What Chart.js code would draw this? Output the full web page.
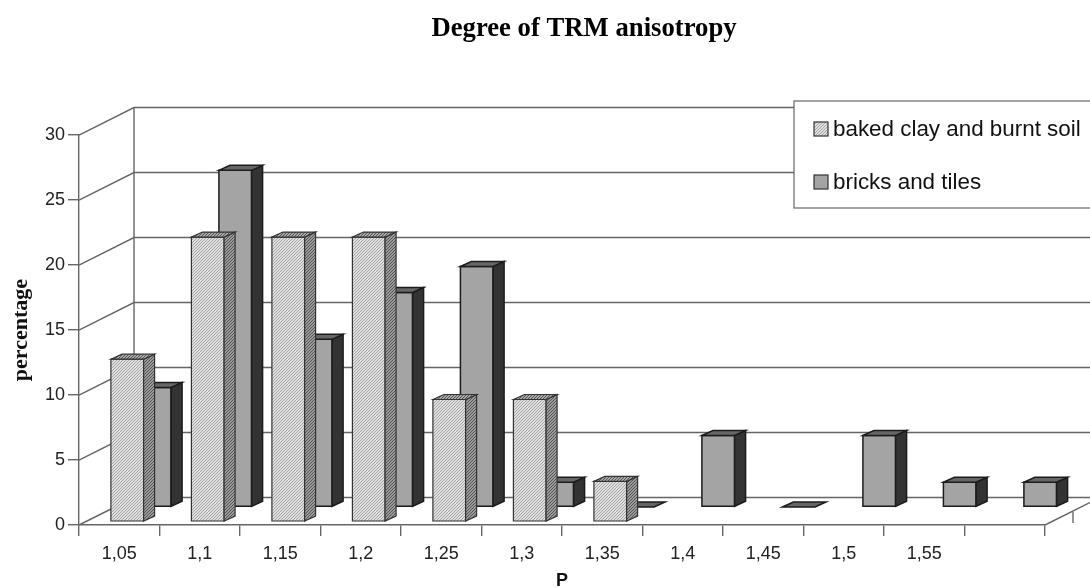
<!DOCTYPE html>
<html>
<head>
<meta charset="utf-8">
<title>Degree of TRM anisotropy</title>
<script src="https://cdn.jsdelivr.net/npm/chart.js@4/dist/chart.umd.min.js"></script>
<style>
  html, body { margin: 0; padding: 0; background: #fff; }
  canvas { display: block; filter: blur(0.45px); }
</style>
</head>
<body>
<canvas id="chart" width="1090" height="588"></canvas>
<script>
const categories = ['1,05', '1,1', '1,15', '1,2', '1,25', '1,3', '1,35', '1,4', '1,45', '1,5', '1,55', ''];
const bakedClay = [12.5, 21.9, 21.9, 21.9, 9.4, 9.4, 3.1, null, null, null, null, null];
const bricksTiles = [9.2, 25.9, 12.9, 16.5, 18.5, 1.9, 0, 5.5, 0, 5.5, 1.9, 1.9];
const yTicks = [0, 5, 10, 15, 20, 25, 30];

const SANS = "'Liberation Sans', Arial, sans-serif";
const SERIF = "'Liberation Serif', 'Times New Roman', serif";
const LINE = '#666666';
const OUTLINE = '#1c1c1c';

// Depth of the 3D box the chart sits in
const WALL_DX = 55, WALL_DY = -27.5;
// Depth of a single bar
const BAR_DX = 11, BAR_DY = -5;

function hatch(bg, fg) {
    const c = document.createElement('canvas');
    c.width = c.height = 3;
    const g = c.getContext('2d');
    g.fillStyle = bg;
    g.fillRect(0, 0, 3, 3);
    g.strokeStyle = fg;
    g.lineWidth = 1;
    g.beginPath();
    g.moveTo(-1, 1); g.lineTo(1, -1);
    g.moveTo(-1, 4); g.lineTo(4, -1);
    g.moveTo(2, 4); g.lineTo(4, 2);
    g.stroke();
    return g.createPattern(c, 'repeat');
}

function poly(ctx, pts, fill) {
    ctx.beginPath();
    pts.forEach((p, i) => i ? ctx.lineTo(p[0], p[1]) : ctx.moveTo(p[0], p[1]));
    ctx.closePath();
    if (fill) { ctx.fillStyle = fill; ctx.fill(); }
    ctx.stroke();
}

function drawBox(ctx, el, style) {
    const l = el.x - el.width / 2 + style.dx, r = l + el.width;
    const t = el.y + style.dy, b = el.base + style.dy;
    ctx.strokeStyle = style.line;
    ctx.lineWidth = style.lineWidth;
    if (b - t > 0.5) {
        poly(ctx, [[l, t], [r, t], [r, b], [l, b]], style.face);
        poly(ctx, [[r, t], [r + BAR_DX, t + BAR_DY], [r + BAR_DX, b + BAR_DY], [r, b]], style.side);
    }
    poly(ctx, [[l, t], [l + BAR_DX, t + BAR_DY], [r + BAR_DX, t + BAR_DY], [r, t]], style.top);
}

const box3d = {
    id: 'box3d',
    afterLayout(chart) {
        // title is centred on the page part right of the axis, not on the whole canvas
        chart.titleBlock.left = 78;
        chart.titleBlock.right = 1090;
    },
    beforeDatasetsDraw(chart) {
        const { ctx, chartArea: a, scales: { y } } = chart;
        ctx.save();
        ctx.strokeStyle = LINE;
        ctx.lineWidth = 1.4;

        // back wall and left wall grid
        yTicks.forEach(v => {
            const py = y.getPixelForValue(v);
            ctx.beginPath();
            ctx.moveTo(a.left, py);
            ctx.lineTo(a.left + WALL_DX, py + WALL_DY);
            ctx.lineTo(chart.width, py + WALL_DY);
            ctx.stroke();
        });
        ctx.beginPath();
        ctx.moveTo(a.left + WALL_DX, a.top + WALL_DY);
        ctx.lineTo(a.left + WALL_DX, a.bottom + WALL_DY);
        // floor edge on the right, with the depth tick
        ctx.moveTo(a.right, a.bottom);
        ctx.lineTo(a.right + WALL_DX, a.bottom + WALL_DY);
        ctx.moveTo(a.right + 28, a.bottom - 13);
        ctx.lineTo(a.right + 28, a.bottom - 2);
        ctx.stroke();

        // back row first so the front row covers it
        [1, 0].forEach(i => {
            const ds = chart.data.datasets[i];
            chart.getDatasetMeta(i).data.forEach((el, j) => {
                if (ds.data[j] !== null) drawBox(ctx, el, ds.box);
            });
        });

        // legend
        const lx = 794, ly = 101, lw = 300, lh = 107;
        ctx.strokeStyle = LINE;
        ctx.fillStyle = '#fff';
        ctx.fillRect(lx, ly, lw, lh);
        ctx.strokeRect(lx, ly, lw, lh);
        ctx.font = '22.4px ' + SANS;
        ctx.textBaseline = 'middle';
        chart.data.datasets.forEach((ds, i) => {
            const row = ly + 28 + i * 53;
            ctx.strokeStyle = '#333';
            ctx.lineWidth = 1.2;
            ctx.fillStyle = ds.box.face;
            ctx.fillRect(814, row - 7, 14, 14);
            ctx.strokeRect(814, row - 7, 14, 14);
            ctx.fillStyle = '#111';
            ctx.fillText(ds.label, 833, row + 1);
        });
        ctx.restore();
        return false;
    }
};

new Chart(document.getElementById('chart'), {
    type: 'bar',
    data: {
        labels: categories,
        datasets: [
            {
                label: 'baked clay and burnt soil',
                data: bakedClay,
                box: {
                    dx: 8, dy: -3.3, line: '#333333', lineWidth: 1.2,
                    face: hatch('#dfdfdf', '#a6a6a6'),
                    side: hatch('#9a9a9a', '#555555'),
                    top: hatch('#a8a8a8', '#555555')
                }
            },
            {
                label: 'bricks and tiles',
                data: bricksTiles,
                box: { dx: 35.5, dy: -18, line: OUTLINE, lineWidth: 1.5, face: '#a4a4a4', side: '#333333', top: '#666666' }
            }
        ]
    },
    options: {
        responsive: false,
        animation: false,
        devicePixelRatio: 1,
        layout: { padding: { left: 0, right: 45, top: 0, bottom: 0 } },
        datasets: { bar: { grouped: false, categoryPercentage: 1, barPercentage: 0.406 } },
        plugins: {
            legend: { display: false },
            tooltip: { enabled: false },
            title: {
                display: true,
                text: 'Degree of TRM anisotropy',
                color: '#000',
                font: { family: SERIF, size: 26.7, weight: 'bold', lineHeight: 1.2 },
                padding: { top: 13, bottom: 90 }
            }
        },
        scales: {
            x: {
                afterFit(s) { s.height = 63; },
                border: { color: LINE, width: 1.4 },
                grid: { drawOnChartArea: false, color: LINE, lineWidth: 1.4, tickLength: 11 },
                ticks: { color: '#222', font: { family: SANS, size: 18 }, padding: 7, maxRotation: 0, autoSkip: false },
                title: { display: true, text: 'P', color: '#111', font: { family: SANS, size: 18, weight: 'bold', lineHeight: 1 }, padding: { top: 0, bottom: -2 } }
            },
            y: {
                min: 0,
                max: 30,
                afterFit(s) { s.width = 79; },
                border: { color: LINE, width: 1.4 },
                grid: { drawOnChartArea: false, color: LINE, lineWidth: 1.4, tickLength: 11 },
                ticks: { stepSize: 5, color: '#222', font: { family: SANS, size: 18 }, padding: 3 },
                title: { display: true, text: 'percentage', color: '#111', font: { family: SERIF, size: 22, weight: 'bold', lineHeight: 1.2 }, padding: { top: 8, bottom: 0 } }
            }
        }
    },
    plugins: [box3d]
});
</script>
</body>
</html>
